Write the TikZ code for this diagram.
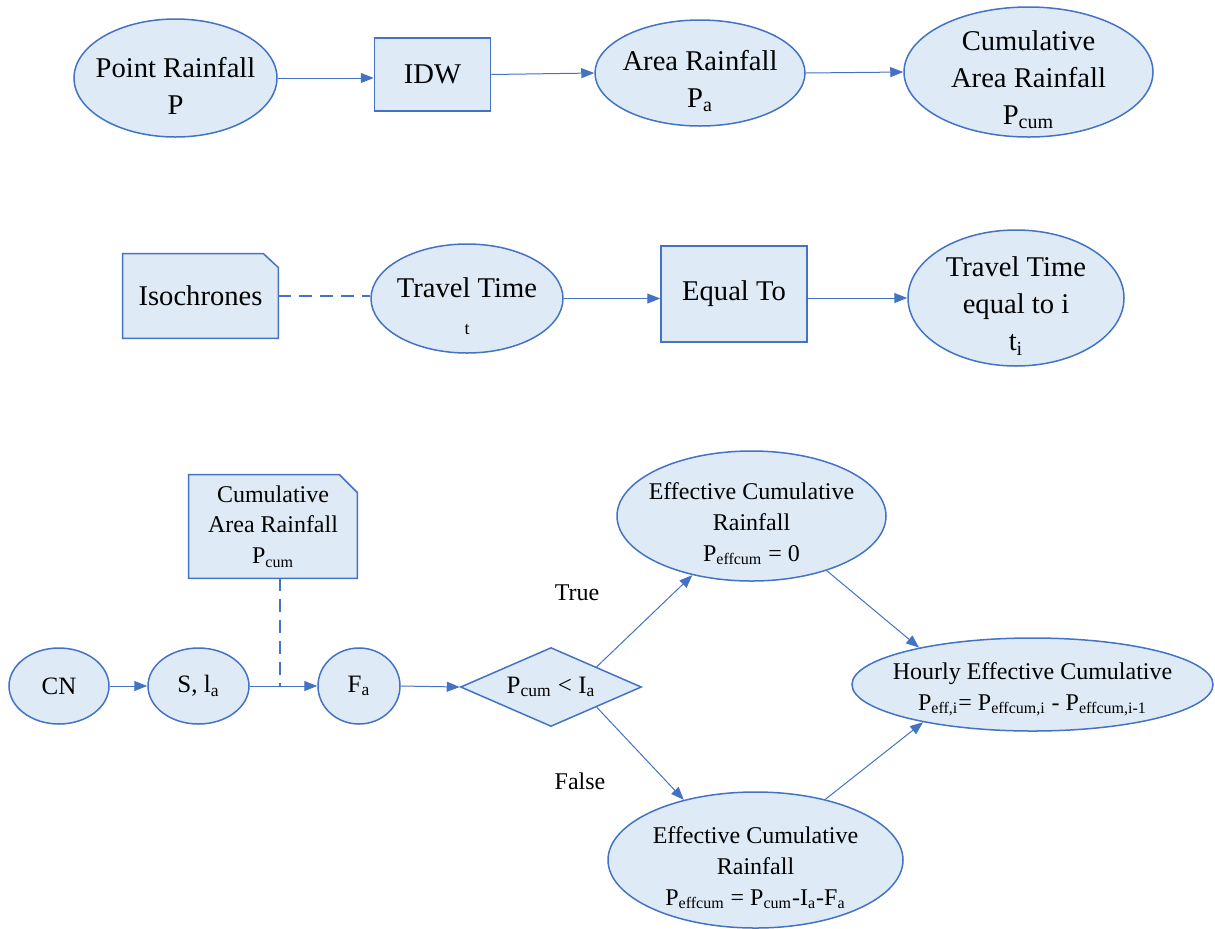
\documentclass[tikz,border=0pt]{standalone}
\usepackage{fontspec}
\setmainfont{Liberation Serif}
\newfontfamily\timesfont{Liberation Serif}
\usetikzlibrary{arrows.meta, positioning, shapes.geometric, backgrounds}

\definecolor{shapeblue}{HTML}{4472C4}
\definecolor{shapefill}{HTML}{DEEBF7}
\newcommand{\sbs}[1]{\textsubscript{#1}}

\begin{document}
\begin{tikzpicture}[
  x=0.5pt, y=-0.5pt,
  big/.style={font=\timesfont\fontsize{14.3}{18.5}\selectfont},
  low/.style={font=\timesfont\fontsize{12}{15.3}\selectfont},
  chain/.style={font=\timesfont\fontsize{12.5}{15}\selectfont},
  dims/.style 2 args={minimum width=#1*0.5pt, minimum height=#2*0.5pt},
  oval/.style={ellipse, draw=shapeblue, fill=shapefill, line width=0.75pt, inner sep=0pt},
  box/.style={rectangle, draw=shapeblue, fill=shapefill, line width=0.75pt, inner sep=0pt, align=center},
  docbox/.style={rectangle, inner sep=0pt, align=center},
  shapeline/.style={draw=shapeblue, fill=shapefill, line width=0.75pt},
  txt/.style={align=center, inner sep=0pt, yshift=-4pt},
  link/.style={draw=shapeblue, line width=0.5pt, -{Triangle[length=6.5pt, width=5pt]}},
  hint/.style={draw=shapeblue, line width=1.2pt, dash pattern=on 6.5pt off 4pt}
]
  \useasboundingbox (0,0) rectangle (1215,928);

  % rainfall row
  \node[oval, dims={203}{118}, label={[txt, big]center:{Point Rainfall\\P}}] (point) at (175.5,78) {};
  \node[box, big, dims={116}{73}] (idw) at (432.5,74.5) {IDW};
  \node[oval, dims={210}{106}, label={[txt, big]center:{Area Rainfall\\P\sbs{a}}}] (area) at (700,73) {};
  \node[oval, dims={249}{130}, label={[txt, big]center:{Cumulative\\Area Rainfall\\P\sbs{cum}}}] (cumul) at (1028.5,72) {};

  \draw[link] (point.east) -- (point.east -| idw.west);
  \draw[link] (idw.east) -- (area.west);
  \draw[link] (area.east) -- (cumul.west);

  % travel time row
  \node[docbox, big, dims={155}{84}] (iso) at (200.5,296) {Isochrones};
  \node[oval, dims={192}{109}, label={[txt, big]center:{Travel Time\\{\fontsize{9}{11}\selectfont t}}}] (travel) at (467,298.5) {};
  \node[box, big, dims={146}{96}] (equal) at (734,294) {Equal To};
  \node[oval, dims={216}{136}, label={[txt, big]center:{Travel Time\\equal to i\\t\sbs{i}}}] (traveli) at (1016,298) {};

  \draw[hint] (iso.east) -- (iso.east -| travel.west);
  \draw[link] (travel.east) -- (travel.east -| equal.west);
  \draw[link] (traveli.west -| equal.east) -- (traveli.west);

  % effective rainfall part
  \node[docbox, low, dims={168}{103}] (pcum) at (273,526.5) {Cumulative\\Area Rainfall\\P\sbs{cum}};
  \node[oval, dims={100}{76}, label={[txt, chain, yshift=4pt]center:{CN}}] (cn) at (59,686) {};
  \node[oval, dims={101}{76}, label={[txt, chain, yshift=4pt]center:{S, l\sbs{a}}}] (sia) at (198.5,686) {};
  \node[oval, dims={82}{76}, label={[txt, chain, yshift=4pt]center:{F\sbs{a}}}] (fa) at (359,686) {};
  \node[diamond, draw=shapeblue, fill=shapefill, line width=0.75pt, inner sep=0pt, dims={181}{79},
        label={[txt, chain, yshift=4pt]center:{P\sbs{cum} < I\sbs{a}}}] (test) at (551,687) {};
  \node[oval, dims={269}{130}, label={[txt, low]center:{Effective Cumulative\\Rainfall\\P\sbs{effcum} = 0}}] (efftrue) at (751.5,516) {};
  \node[oval, dims={295}{136}, label={[txt, low]center:{Effective Cumulative\\Rainfall\\P\sbs{effcum} = P\sbs{cum}-I\sbs{a}-F\sbs{a}}}] (efffalse) at (755.5,860) {};
  \node[oval, dims={361}{93}, label={[txt, low, yshift=1.5pt]center:{Hourly Effective Cumulative\\P\sbs{eff,i}= P\sbs{effcum,i} - P\sbs{effcum,i-1}}}] (hourly) at (1032.5,684.5) {};

  \node[low] (true) at (577,593) {True};
  \node[low] (false) at (580,781) {False};

  \coordinate (join) at (280,686);

  \begin{scope}[on background layer]
    \filldraw[shapeline] (iso.south west) -- (iso.north west) -- ([xshift=-7.5pt]iso.north east)
      -- ([yshift=-7pt]iso.north east) -- (iso.south east) -- cycle;
    \filldraw[shapeline] (pcum.south west) -- (pcum.north west) -- ([xshift=-9pt]pcum.north east)
      -- ([yshift=-9pt]pcum.north east) -- (pcum.south east) -- cycle;
  \end{scope}

  \draw[link] (cn.east) -- (sia.west);
  \draw[link] (sia.east) -- (fa.west);
  \draw[hint, line width=1pt] (join |- pcum.south) -- (join);
  \draw[link] (fa.east) -- (test.west);
  \draw[link] (test.north east) -- (efftrue.225);
  \draw[link] (test.south east) -- (efffalse.140);
  \draw[link] (efftrue.324) -- (hourly.162);
  \draw[link] (efffalse.41) -- (hourly.199);

\end{tikzpicture}
\end{document}
